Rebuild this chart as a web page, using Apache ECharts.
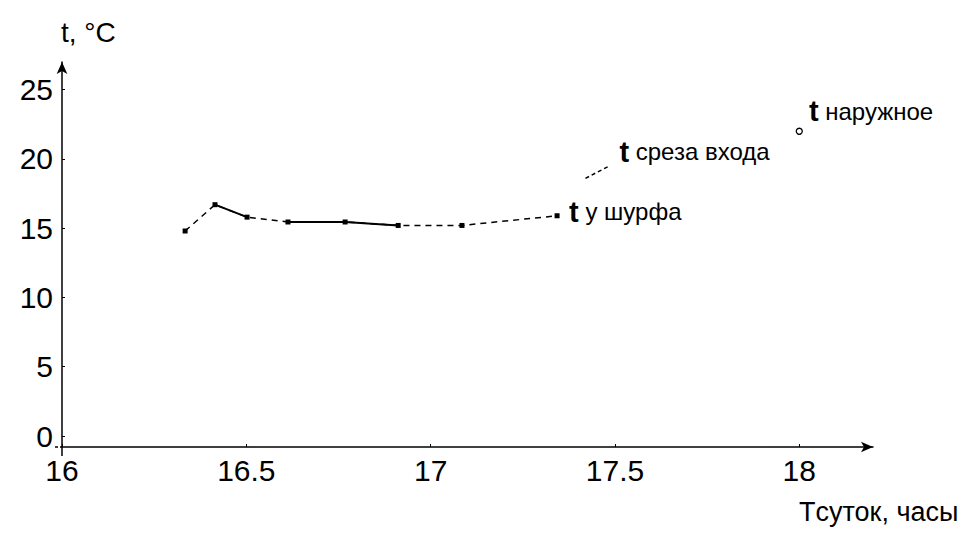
<!DOCTYPE html>
<html>
<head>
<meta charset="utf-8">
<script src="https://cdn.jsdelivr.net/npm/echarts@6/dist/echarts.min.js"></script>
<style>html,body{margin:0;padding:0;background:#fff}#c{width:965px;height:533px}</style>
</head>
<body>
<div id="c"></div>
<script>
// ---- data ----
const shurfX = [16.334, 16.415, 16.502, 16.613, 16.768, 16.912, 17.085, 17.343];
const shurfY = [14.8, 16.7, 15.8, 15.45, 15.45, 15.2, 15.2, 15.9];
const shurfSolidSeg = [0, 1, 0, 1, 1, 0, 0]; // which segments look solid
const srezaX = [17.42, 17.485];
const srezaY = [18.6, 19.5];
const naruzhX = [18.0];
const naruzhY = [22.0];
const seriesNames = ['t у шурфа', 't среза входа', 't наружное'];
const yTitle = 't, °C';
const xTitle = 'Tсуток, часы';

const FONT = "'Liberation Sans Narrow','Liberation Sans',Arial,sans-serif";
const zip = (xs, ys) => xs.map((x, i) => [x, ys[i]]);

const shurfData = zip(shurfX, shurfY);
const solidData = [];
shurfSolidSeg.forEach((f, i) => {
  if (f) { solidData.push(shurfData[i], shurfData[i + 1], [shurfX[i + 1], '-']); }
});

const lastLabel = (name, offset, dist) => ({
  show: true, position: 'right', distance: dist, offset: offset,
  color: '#000', fontFamily: FONT, fontSize: 24, opacity: 1,
  formatter: () => '{t|t}' + name.slice(1),
  rich: { t: { fontFamily: FONT, fontSize: 29, fontWeight: 'bold', color: '#000' } }
});

const chart = echarts.init(document.getElementById('c'), null, { renderer: 'svg' });
chart.setOption({
  animation: false,
  backgroundColor: '#fff',
  grid: { left: 62, right: 92, top: 62, bottom: 97, containLabel: false },
  xAxis: {
    type: 'value', min: 16, max: 18.2, interval: 0.5, offset: 11,
    axisLine: { show: true, onZero: false, symbol: ['none', 'arrow'], symbolSize: [8, 12], lineStyle: { color: '#000', width: 1.5 } },
    axisTick: { show: true, inside: true, length: 3, lineStyle: { color: '#000' } },
    axisLabel: { color: '#000', fontFamily: FONT, fontSize: 30, margin: 8, showMaxLabel: false,
      formatter: v => String(v) },
    splitLine: { show: false }
  },
  yAxis: {
    type: 'value', min: 0, max: 27, interval: 5,
    axisLine: { show: true, symbol: ['none', 'arrow'], symbolSize: [8, 12], lineStyle: { color: '#000', width: 1.5 } },
    axisTick: { show: true, inside: true, length: 3, lineStyle: { color: '#000' } },
    axisLabel: { color: '#000', fontFamily: FONT, fontSize: 30, margin: 9, showMaxLabel: false },
    splitLine: { show: false }
  },
  graphic: [
    { type: 'text', left: 61, top: 18, style: { text: yTitle, fill: '#000', font: "28px " + FONT } },
    { type: 'text', left: 799, top: 498, style: { text: xTitle, fill: '#000', font: "27px " + FONT } },
    { type: 'line', shape: { x1: 62, y1: 436, x2: 62, y2: 456 }, style: { stroke: '#000', lineWidth: 1.5 } },
    { type: 'line', shape: { x1: 55, y1: 447, x2: 62, y2: 447 }, style: { stroke: '#000', lineWidth: 1.5, lineDash: [3, 2] } }
  ],
  series: [
    {
      name: seriesNames[0], type: 'line', data: shurfData,
      symbol: 'rect', symbolSize: 5, itemStyle: { color: '#000' },
      lineStyle: { color: '#000', width: 1.5, type: [6, 5] },
      label: { show: false },
      endLabel: lastLabel(seriesNames[0], [0, -4], 12),
      z: 3
    },
    {
      name: seriesNames[0] + ' solid', type: 'line', data: solidData, connectNulls: false,
      symbol: 'none', lineStyle: { color: '#000', width: 2 }, z: 4
    },
    {
      name: seriesNames[1], type: 'line', data: zip(srezaX, srezaY),
      symbol: 'none', lineStyle: { color: '#000', width: 1.5, type: [4, 3] },
      endLabel: lastLabel(seriesNames[1], [0, -14], 10)
    },
    {
      name: seriesNames[2], type: 'scatter', data: zip(naruzhX, naruzhY),
      symbol: 'circle', symbolSize: 6,
      itemStyle: { color: '#fff', borderColor: '#000', borderWidth: 1.3, opacity: 1 },
      label: lastLabel(seriesNames[2], [-4, -20], 10),
      z: 5
    }
  ]
});
</script>
</body>
</html>
